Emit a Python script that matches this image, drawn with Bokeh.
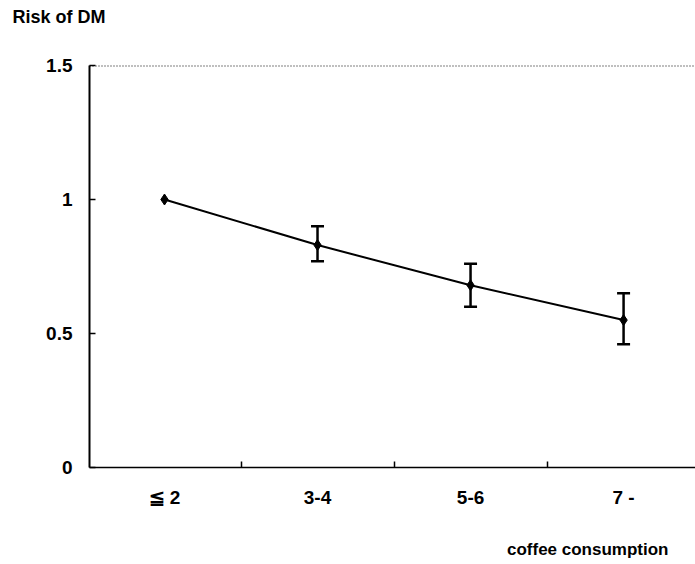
from bokeh.plotting import figure
from bokeh.models import Range1d, FixedTicker, Span, Whisker, TeeHead, ColumnDataSource, Title
from bokeh.embed import file_html
from bokeh.resources import INLINE

# data
categories = ["\u2266 2", "3-4", "5-6", "7 -"]
risk = [1.0, 0.83, 0.68, 0.55]
ci_lower = [None, 0.77, 0.60, 0.46]
ci_upper = [None, 0.90, 0.76, 0.65]
y_ticks = [0, 0.5, 1, 1.5]
y_tick_labels = ["0", "0.5", "1", "1.5"]

FONT = "Liberation Sans"
FS = "19px"

xs = list(range(len(categories)))
X_START, X_END = -0.49, 3.47

p = figure(width=695, height=564, output_backend="svg", toolbar_location=None,
           x_range=Range1d(X_START, X_END), y_range=Range1d(0, 1.5),
           min_border_left=89, min_border_right=0, min_border_top=65, min_border_bottom=97)
p.title = None
p.outline_line_color = None
p.xgrid.visible = False
p.ygrid.visible = False
p.background_fill_color = "white"

def title(text, size, standoff, align="left", offset=0):
    return Title(text=text, align=align, offset=offset, standoff=standoff,
                 text_font=FONT, text_font_size=size, text_font_style="bold", text_color="black")

# top: spacer nearest the frame, then the y title above it
p.add_layout(title(" ", "18px", 17), "above")
p.add_layout(title("Risk of DM", "18px", 0, "left", -77), "above")

# x axis
p.xaxis.ticker = FixedTicker(ticks=xs, minor_ticks=[i + 0.5 for i in xs[:-1]])
p.xaxis.major_label_overrides = {i: c for i, c in zip(xs, categories)}
p.xaxis.major_tick_in = 0
p.xaxis.major_tick_out = 0
p.xaxis.minor_tick_in = 6
p.xaxis.minor_tick_out = 0
p.xaxis.minor_tick_line_width = 1.5
p.xaxis.axis_line_width = 1.5
p.xaxis.major_label_standoff = 19
p.xaxis.major_label_text_font = FONT
p.xaxis.major_label_text_font_size = FS
p.xaxis.major_label_text_font_style = "bold"
p.xaxis.major_label_text_color = "black"

# y axis
p.yaxis.ticker = FixedTicker(ticks=y_ticks, minor_ticks=[])
p.yaxis.major_label_overrides = {t: l for t, l in zip(y_ticks, y_tick_labels)}
p.yaxis.major_tick_in = 6
p.yaxis.major_tick_out = 0
p.yaxis.major_tick_line_width = 1.5
p.yaxis.axis_line_width = 2
p.yaxis.major_label_standoff = 17
p.yaxis.major_label_text_font = FONT
p.yaxis.major_label_text_font_size = FS
p.yaxis.major_label_text_font_style = "bold"
p.yaxis.major_label_text_color = "black"

# dotted top border
p.add_layout(Span(location=1.5, dimension="width", line_color="black",
                  line_dash="1 2", line_width=2))

# line and markers
p.line(xs, risk, line_color="black", line_width=2)
p.scatter(xs, risk, marker="diamond", size=11, fill_color="black", line_color="black")

# error bars
eb = ColumnDataSource(dict(
    x=[x for x, lo in zip(xs, ci_lower) if lo is not None],
    lower=[lo for lo in ci_lower if lo is not None],
    upper=[up for up in ci_upper if up is not None],
))
p.add_layout(Whisker(source=eb, base="x", lower="lower", upper="upper",
                     line_color="black", line_width=2.5,
                     upper_head=TeeHead(size=13, line_width=2.5, line_color="black"),
                     lower_head=TeeHead(size=13, line_width=2.5, line_color="black")))

# bottom: spacer below the axis, then the x title
p.add_layout(title(" ", "17px", 6), "below")
p.add_layout(title("coffee consumption", "17px", 0, "right", 27), "below")

open("out.html", "w").write(file_html(p, INLINE))
